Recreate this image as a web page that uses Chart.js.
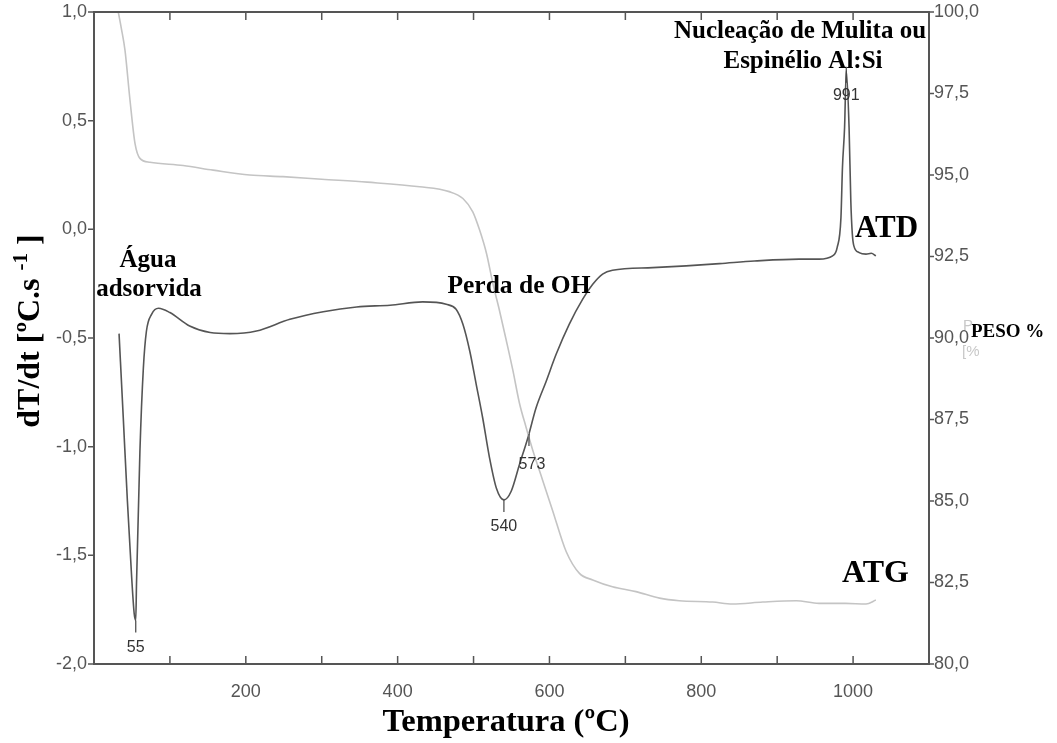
<!DOCTYPE html>
<html>
<head>
<meta charset="utf-8">
<script src="https://cdn.jsdelivr.net/npm/chart.js@4.4.1/dist/chart.umd.min.js"></script>
<style>
html,body{margin:0;padding:0;background:#fff;}
#wrap{width:1057px;height:743px;}
</style>
</head>
<body>
<div id="wrap"><canvas id="c" width="1057" height="743"></canvas></div>
<script>
// ---- DATA ----
// ATD (DTA) curve: temperature (ºC) and dT/dt (ºC/s)
const atdTemp = [33,38.6,44,49.6,53,55,56,60.5,65,69,76,85,100,126,153,179,214,258,302,346,390,433,464,477,486,495,503.5,512,521,530,540,549.6,560.5,571.5,582.5,595.6,608.8,626,644,657,670,683,736,780,824,870,929,955,973,979,984,986,988.8,991,994.7,997,999,1001,1008,1017,1024,1030];
const atdVal  = [-0.48,-0.87,-1.25,-1.60,-1.77,-1.80,-1.63,-1.02,-0.64,-0.47,-0.39,-0.363,-0.383,-0.445,-0.475,-0.48,-0.468,-0.414,-0.379,-0.357,-0.349,-0.334,-0.345,-0.368,-0.437,-0.56,-0.713,-0.867,-1.05,-1.19,-1.245,-1.205,-1.082,-0.96,-0.82,-0.70,-0.575,-0.437,-0.32,-0.253,-0.206,-0.188,-0.176,-0.168,-0.158,-0.146,-0.137,-0.137,-0.122,-0.084,0.054,0.285,0.47,0.73,0.47,0.13,-0.022,-0.076,-0.107,-0.114,-0.11,-0.122];
// ATG (TGA) curve: temperature (ºC) and mass (%)
const atgTemp = [32,36,40.8,47.4,54,60.5,73.7,117.5,157,205,249,300,360,429,468,486,499,508,517,525.4,534,543,551.7,560.5,569,578,591,604,622,639.5,657,683,714,745,771,815,841,881,925,955,990,1017,1030];
const atgVal  = [100,99.5,98.83,97.3,95.97,95.51,95.39,95.29,95.15,95.0,94.95,94.87,94.78,94.64,94.49,94.28,93.87,93.31,92.6,91.68,90.86,89.94,89.02,88.0,87.28,86.56,85.64,84.72,83.45,82.78,82.58,82.37,82.22,82.02,81.94,81.9,81.84,81.9,81.94,81.86,81.86,81.84,81.96];
// Peak labels on the ATD curve
const peakTemps  = [55, 540, 573, 991];
const peakVals   = [-1.80, -1.245, -0.96, 0.73];
const peakLabels = ['55', '540', '573', '991'];
// Axis ranges / ticks
const xMin = 0, xMax = 1100, xStep = 100;
const yMin = -2, yMax = 1, yStep = 0.5;
const y2Min = 80, y2Max = 100, y2Step = 2.5;

// ---- CHART ----
const tickFont = {family: "'Liberation Sans Narrow','Liberation Sans',Arial,sans-serif", size: 18};
const tickColor = '#555';
const comma = (v, d) => v.toFixed(d).replace('.', ',');

const decor = {
  id: 'decor',
  afterDraw(chart) {
    const ctx = chart.ctx;
    const a = chart.chartArea;
    const sx = chart.scales.x, sy = chart.scales.y, sy2 = chart.scales.y2;
    ctx.save();
    // frame
    ctx.strokeStyle = '#555';
    ctx.lineWidth = 2;
    ctx.strokeRect(a.left, a.top, a.right - a.left, a.bottom - a.top);
    // tick marks
    ctx.lineWidth = 1.5;
    ctx.beginPath();
    sx.ticks.forEach(t => {
      if (t.value <= xMin || t.value >= xMax) return;
      const px = sx.getPixelForValue(t.value);
      ctx.moveTo(px, a.bottom); ctx.lineTo(px, a.bottom - 8);
      ctx.moveTo(px, a.top); ctx.lineTo(px, a.top + 8);
    });
    sy.ticks.forEach(t => {
      const py = sy.getPixelForValue(t.value);
      ctx.moveTo(a.left, py); ctx.lineTo(a.left - 6, py);
    });
    sy2.ticks.forEach(t => {
      const py = sy2.getPixelForValue(t.value);
      ctx.moveTo(a.right, py); ctx.lineTo(a.right + 5, py);
    });
    ctx.stroke();

    // peak markers and labels
    ctx.strokeStyle = '#444';
    ctx.lineWidth = 1.2;
    ctx.fillStyle = '#333';
    ctx.font = "16px 'Liberation Sans Narrow','Liberation Sans',Arial,sans-serif";
    ctx.textAlign = 'center';
    ctx.textBaseline = 'middle';
    peakTemps.forEach((t, i) => {
      const px = sx.getPixelForValue(t);
      const py = sy.getPixelForValue(peakVals[i]);
      ctx.beginPath();
      if (i === 3) {
        ctx.moveTo(px, py - 4); ctx.lineTo(px, py + 12);
        ctx.stroke();
        ctx.fillText(peakLabels[i], px, py + 25);
      } else if (i === 2) {
        ctx.moveTo(px, py - 4); ctx.lineTo(px, py + 8);
        ctx.stroke();
        ctx.fillText(peakLabels[i], px + 3, py + 27);
      } else {
        ctx.moveTo(px, py); ctx.lineTo(px, py + 12);
        ctx.stroke();
        ctx.fillText(peakLabels[i], px, py + 27);
      }
    });

    // annotation texts (bold serif)
    const serif = "'Liberation Serif','Times New Roman',serif";
    ctx.fillStyle = '#000';
    ctx.textBaseline = 'alphabetic';
    ctx.textAlign = 'center';
    ctx.font = 'bold 25px ' + serif;
    ctx.fillText('Água', 148, 267);
    ctx.fillText('adsorvida', 149, 296);
    ctx.font = 'bold 25.5px ' + serif;
    ctx.fillText('Perda de OH', 519, 293);
    ctx.font = 'bold 25px ' + serif;
    ctx.fillText('Nucleação de Mulita ou', 800, 38);
    ctx.fillText('Espinélio Al:Si', 803, 68);
    ctx.textAlign = 'left';
    ctx.font = 'bold 31px ' + serif;
    ctx.fillText('ATD', 855, 237);
    ctx.font = 'bold 32px ' + serif;
    ctx.fillText('ATG', 842, 582);
    ctx.font = 'bold 19px ' + serif;
    ctx.fillText('PESO %', 971, 337);
    // faint residual axis title
    ctx.fillStyle = '#c8c8c8';
    ctx.font = "15px 'Liberation Sans',Arial,sans-serif";
    ctx.fillText('P', 963, 330);
    ctx.fillText('[%', 962, 356);

    // x axis title
    ctx.fillStyle = '#000';
    ctx.textAlign = 'center';
    ctx.font = 'bold 32.5px ' + serif;
    ctx.fillText('Temperatura (ºC)', 506, 731);

    // y axis title with superscript
    ctx.translate(39, 331);
    ctx.rotate(-Math.PI / 2);
    ctx.textAlign = 'left';
    const f1 = 'bold 32px ' + serif, f2 = 'bold 21px ' + serif;
    const p1 = 'dT/dt [ºC.s ', p2 = '-1', p3 = ' ]';
    ctx.font = f1; const w1 = ctx.measureText(p1).width, w3 = ctx.measureText(p3).width;
    ctx.font = f2; const w2 = ctx.measureText(p2).width;
    let x0 = -(w1 + w2 + w3) / 2;
    ctx.font = f1; ctx.fillText(p1, x0, 0);
    ctx.font = f2; ctx.fillText(p2, x0 + w1, -12);
    ctx.font = f1; ctx.fillText(p3, x0 + w1 + w2, 0);
    ctx.restore();
  }
};

const fitV = w => s => { s.width = w; s.paddingTop = 0; s.paddingBottom = 0; };

new Chart(document.getElementById('c'), {
  type: 'line',
  data: {
    datasets: [
      {
        label: 'ATG',
        data: atgTemp.map((t, i) => ({x: t, y: atgVal[i]})),
        yAxisID: 'y2',
        borderColor: '#c4c4c4',
        borderWidth: 1.6,
        pointRadius: 0,
        cubicInterpolationMode: 'monotone',
        fill: false
      },
      {
        label: 'ATD',
        data: atdTemp.map((t, i) => ({x: t, y: atdVal[i]})),
        yAxisID: 'y',
        borderColor: '#555',
        borderWidth: 1.6,
        pointRadius: 0,
        cubicInterpolationMode: 'monotone',
        fill: false
      }
    ]
  },
  options: {
    responsive: false,
    animation: false,
    devicePixelRatio: 1,
    layout: {padding: {top: 12, left: 0, right: 0, bottom: 0}},
    plugins: {legend: {display: false}, tooltip: {enabled: false}},
    scales: {
      x: {
        type: 'linear', position: 'bottom', min: xMin, max: xMax,
        grid: {display: false, drawTicks: false},
        border: {display: false},
        ticks: {
          stepSize: xStep, autoSkip: false, maxRotation: 0, font: tickFont, color: tickColor, padding: 17,
          callback: v => (v % 200 === 0 && v > 0 && v <= 1000) ? String(v) : ''
        },
        afterFit: s => { s.height = 79; s.paddingLeft = 0; s.paddingRight = 0; }
      },
      y: {
        type: 'linear', position: 'left', min: yMin, max: yMax,
        grid: {display: false, drawTicks: false},
        border: {display: false},
        ticks: {stepSize: yStep, font: tickFont, color: tickColor, padding: 7, callback: v => comma(v, 1)},
        afterFit: fitV(94)
      },
      y2: {
        type: 'linear', position: 'right', min: y2Min, max: y2Max,
        grid: {display: false, drawTicks: false},
        border: {display: false},
        ticks: {stepSize: y2Step, font: tickFont, color: tickColor, padding: 5, callback: v => comma(v, 1)},
        afterFit: fitV(128)
      }
    }
  },
  plugins: [decor]
});
</script>
</body>
</html>
